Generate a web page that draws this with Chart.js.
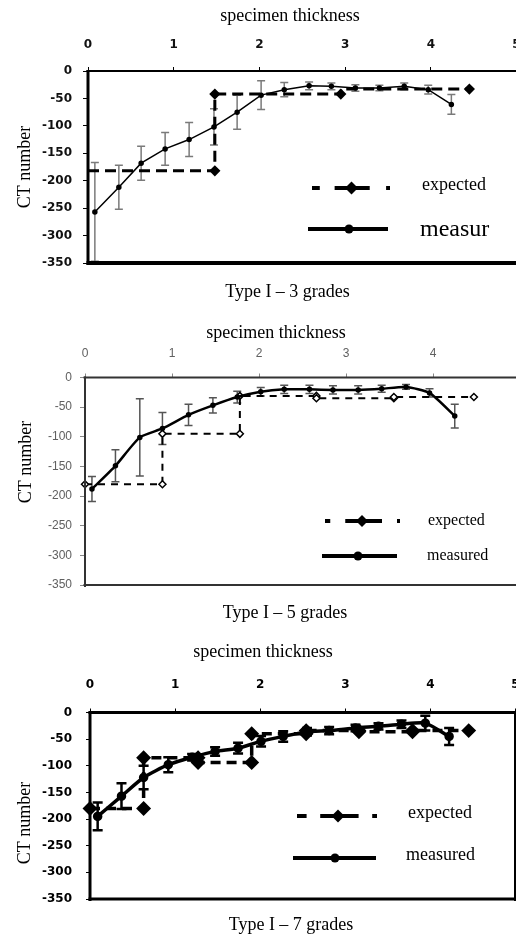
<!DOCTYPE html>
<html>
<head>
<meta charset="utf-8">
<script src="https://cdn.jsdelivr.net/npm/chart.js@4.4.1/dist/chart.umd.min.js"></script>
<style>
html, body { margin: 0; padding: 0; background: #fff; overflow: hidden; }
#wrap { position: relative; width: 516px; height: 937px; overflow: hidden; }
canvas { position: absolute; left: 0; }
</style>
</head>
<body>
<div id="wrap">
  <canvas id="g3" width="540" height="310" style="top:0px"></canvas>
  <canvas id="g5" width="540" height="315" style="top:310px"></canvas>
  <canvas id="g7" width="540" height="312" style="top:625px"></canvas>
</div>
<script>
// axis ranges
const xMin = 0, xMax = 5, xStep = 1;
const yMin = -350, yMax = 0, yStep = 50;

// Type I – 3 grades
const g3MeasX = [0.08, 0.36, 0.62, 0.90, 1.18, 1.47, 1.74, 2.02, 2.29, 2.58, 2.84, 3.12, 3.40, 3.69, 3.97, 4.24];
const g3MeasY = [-257, -212, -168, -142, -125, -102, -75, -44, -34, -27, -28, -31, -31, -28, -34, -61];
const g3MeasErr = [90, 40, 31, 30, 31, 33, 31, 26, 13, 7, 6, 6, 5, 6, 8, 18];
const g3ExpX = [0, 1.48, 1.48, 2.95, 2.95, 4.45];
const g3ExpY = [-182, -182, -42, -42, -33, -33];

// Type I – 5 grades
const g5MeasX = [0.08, 0.35, 0.63, 0.89, 1.19, 1.47, 1.75, 2.02, 2.29, 2.58, 2.85, 3.14, 3.41, 3.69, 3.96, 4.25];
const g5MeasY = [-188, -149, -101, -86, -63, -47, -33, -24, -20, -20, -21, -21, -19, -16, -26, -65];
const g5MeasErr = [21, 27, 65, 27, 18, 13, 10, 7, 7, 7, 7, 7, 6, 4, 7, 20];
const g5ExpX = [0, 0.89, 0.89, 1.78, 1.78, 2.66, 2.66, 3.55, 3.55, 4.47];
const g5ExpY = [-180, -180, -95, -95, -31, -31, -35, -35, -33, -33];

// Type I – 7 grades
const g7MeasX = [0.09, 0.37, 0.63, 0.92, 1.20, 1.47, 1.74, 2.01, 2.27, 2.55, 2.81, 3.12, 3.39, 3.66, 3.94, 4.22];
const g7MeasY = [-195, -157, -122, -98, -84, -73, -67, -54, -45, -36, -34, -29, -26, -22, -20, -45];
const g7MeasErr = [26, 24, 22, 14, 6, 8, 10, 10, 10, 7, 7, 6, 6, 7, 14, 16];
const g7ExpX = [0, 0.63, 0.63, 1.27, 1.27, 1.90, 1.90, 2.54, 2.54, 3.16, 3.16, 3.79, 3.79, 4.45];
const g7ExpY = [-180, -180, -85, -85, -94, -94, -40, -40, -34, -34, -36, -36, -34, -34];

const serif = '"Liberation Serif", "Times New Roman", serif';

function pts(xs, ys) {
  return xs.map((x, i) => ({ x: x, y: ys[i] }));
}

function diamond(ctx, x, y, r) {
  ctx.beginPath();
  ctx.moveTo(x, y - r);
  ctx.lineTo(x + r, y);
  ctx.lineTo(x, y + r);
  ctx.lineTo(x - r, y);
  ctx.closePath();
  ctx.fill();
}

// error bars, frame, legend and free texts
const decor = {
  id: 'decor',
  beforeDatasetsDraw(chart, args, o) {
    const ctx = chart.ctx, ys = chart.scales.y, a = chart.chartArea;
    ctx.save();
    ctx.beginPath();
    ctx.rect(a.left, a.top - 2, a.right - a.left, a.bottom - a.top + 4);
    ctx.clip();
    ctx.strokeStyle = o.bars.color;
    ctx.lineWidth = o.bars.width;
    chart.data.datasets.forEach((ds, i) => {
      if (!ds.errors) return;
      const meta = chart.getDatasetMeta(i);
      meta.data.forEach((pt, j) => {
        const v = ds.data[j].y, e = ds.errors[j];
        const y1 = ys.getPixelForValue(v + e), y2 = ys.getPixelForValue(v - e);
        const c = o.bars.cap;
        ctx.beginPath();
        ctx.moveTo(pt.x, y1); ctx.lineTo(pt.x, y2);
        ctx.moveTo(pt.x - c, y1); ctx.lineTo(pt.x + c, y1);
        ctx.moveTo(pt.x - c, y2); ctx.lineTo(pt.x + c, y2);
        ctx.stroke();
      });
    });
    ctx.restore();
  },
  afterDraw(chart, args, o) {
    const ctx = chart.ctx, a = chart.chartArea, f = o.frame;
    ctx.save();
    ctx.strokeStyle = f.color;
    const side = (w, x1, y1, x2, y2) => {
      if (!w) return;
      ctx.lineWidth = w;
      ctx.beginPath(); ctx.moveTo(x1, y1); ctx.lineTo(x2, y2); ctx.stroke();
    };
    side(f.top, a.left - 1.5, a.top, a.right, a.top);
    side(f.bottom, a.left - 1.5, a.bottom, a.right, a.bottom);
    side(f.left, a.left, a.top - 1, a.left, a.bottom + 2);
    side(f.right, a.right, a.top - 1, a.right, a.bottom + 2);

    // legend
    const L = o.legend;
    ctx.strokeStyle = '#000';
    ctx.fillStyle = '#000';
    ctx.lineWidth = L.width;
    const e = L.expected, m = L.measured;
    const len = e.x2 - e.x1;
    L.segments.forEach(s => {
      ctx.beginPath();
      ctx.moveTo(e.x1 + s[0] * len, e.y);
      ctx.lineTo(e.x1 + s[1] * len, e.y);
      ctx.stroke();
    });
    diamond(ctx, e.mx, e.y, e.r);
    ctx.beginPath();
    ctx.moveTo(m.x1, m.y); ctx.lineTo(m.x2, m.y); ctx.stroke();
    ctx.beginPath(); ctx.arc(m.mx, m.y, m.r, 0, Math.PI * 2); ctx.fill();

    // texts
    o.texts.forEach(t => {
      ctx.save();
      ctx.font = t.size + 'px ' + serif;
      ctx.fillStyle = '#000';
      ctx.textAlign = t.align || 'center';
      ctx.textBaseline = 'middle';
      ctx.translate(t.x, t.y);
      if (t.rot) ctx.rotate(-Math.PI / 2);
      ctx.fillText(t.text, 0, 0);
      ctx.restore();
    });
    ctx.restore();
  }
};

function build(id, s) {
  const W = 540;
  new Chart(document.getElementById(id), {
    type: 'line',
    plugins: [decor],
    data: {
      datasets: [
        Object.assign({ label: 'measured', data: s.meas, errors: s.err, clip: false, order: 0 }, s.measStyle),
        Object.assign({ label: 'expected', data: s.exp, clip: false, order: 1 }, s.expStyle)
      ]
    },
    options: {
      responsive: false,
      animation: false,
      layout: {
        padding: {
          left: s.area.left - 60,
          top: s.area.top - 40,
          right: W - s.area.right,
          bottom: s.height - s.area.bottom
        }
      },
      scales: {
        x: {
          type: 'linear',
          position: 'top',
          min: xMin, max: xMax,
          afterFit(sc) { sc.height = 40; },
          border: { display: false },
          grid: { drawOnChartArea: false, tickLength: 4, tickColor: s.tickColor, lineWidth: 1 },
          ticks: { stepSize: xStep, padding: s.xPad, color: s.labelColor, font: s.font, maxRotation: 0 }
        },
        y: {
          min: yMin, max: yMax,
          afterFit(sc) { sc.width = 60; },
          border: { display: false },
          grid: { drawOnChartArea: false, tickLength: s.yTick, tickColor: s.tickColor, lineWidth: 1 },
          ticks: { stepSize: yStep, padding: s.yPad, color: s.labelColor, font: s.font }
        }
      },
      plugins: {
        legend: { display: false },
        tooltip: { enabled: false },
        decor: s.decor
      }
    }
  });
}

// Type I – 3 grades
build('g3', {
  height: 310,
  area: { left: 88, right: 516.5, top: 71, bottom: 263 },
  font: { family: '"DejaVu Sans", sans-serif', size: 12, weight: 'bold' },
  labelColor: '#111', tickColor: '#000', xPad: 15, yPad: 11, yTick: 5,
  meas: pts(g3MeasX, g3MeasY), err: g3MeasErr,
  exp: pts(g3ExpX, g3ExpY),
  measStyle: { borderColor: '#000', borderWidth: 1.5, pointRadius: 2, pointBackgroundColor: '#000', pointBorderColor: '#000', tension: 0 },
  expStyle: { borderColor: '#000', borderWidth: 3, borderDash: [11, 6], pointStyle: 'rectRot', pointRadius: [0, 3.5, 3.5, 3.5, 0, 3.5], pointBackgroundColor: '#000', pointBorderColor: '#000', tension: 0 },
  decor: {
    bars: { color: '#7a7a7a', width: 1.5, cap: 4 },
    frame: { color: '#000', top: 2, bottom: 4, left: 3, right: 0 },
    legend: {
      width: 4,
      segments: [[0, 0.1], [0.29, 0.74], [0.95, 1]],
      expected: { x1: 312, x2: 390, y: 188, mx: 351.5, r: 6.5 },
      measured: { x1: 308, x2: 388, y: 229, mx: 349, r: 4.5 }
    },
    texts: [
      { text: 'specimen thickness', x: 290, y: 16, size: 18 },
      { text: 'Type I \u2013 3 grades', x: 287.5, y: 292, size: 18 },
      { text: 'CT number', x: 25, y: 167, size: 18, rot: true },
      { text: 'expected', x: 422, y: 185, size: 18, align: 'left' },
      { text: 'measur', x: 420, y: 230, size: 24, align: 'left' }
    ]
  }
});

// Type I – 5 grades
build('g5', {
  height: 315,
  area: { left: 85, right: 520, top: 67.5, bottom: 275 },
  font: { family: '"Liberation Sans", sans-serif', size: 12 },
  labelColor: '#606060', tickColor: '#888', xPad: 13, yPad: 8, yTick: 5,
  meas: pts(g5MeasX, g5MeasY), err: g5MeasErr,
  exp: pts(g5ExpX, g5ExpY),
  measStyle: { borderColor: '#000', borderWidth: 2.5, pointRadius: 1.5, pointBackgroundColor: '#000', pointBorderColor: '#000', tension: 0.2 },
  expStyle: { borderColor: '#000', borderWidth: 2, borderDash: [7, 6], pointStyle: 'rectRot', pointRadius: 3.5, pointBackgroundColor: '#fff', pointBorderColor: '#000', pointBorderWidth: 1.5, tension: 0 },
  decor: {
    bars: { color: '#555', width: 1.5, cap: 4 },
    frame: { color: '#333', top: 2, bottom: 2, left: 2, right: 2 },
    legend: {
      width: 4,
      segments: [[0, 0.07], [0.27, 0.76], [0.96, 1]],
      expected: { x1: 325, x2: 400, y: 211, mx: 362, r: 6 },
      measured: { x1: 322, x2: 397, y: 246, mx: 358, r: 4.5 }
    },
    texts: [
      { text: 'specimen thickness', x: 276, y: 23, size: 18 },
      { text: 'Type I \u2013 5 grades', x: 285, y: 303, size: 18 },
      { text: 'CT number', x: 26, y: 152, size: 18, rot: true },
      { text: 'expected', x: 428, y: 211, size: 16, align: 'left' },
      { text: 'measured', x: 427, y: 246, size: 16, align: 'left' }
    ]
  }
});

// Type I – 7 grades
build('g7', {
  height: 312,
  area: { left: 90, right: 515.5, top: 87.5, bottom: 274 },
  font: { family: '"DejaVu Sans", sans-serif', size: 12, weight: 'bold' },
  labelColor: '#000', tickColor: '#000', xPad: 16, yPad: 14, yTick: 4,
  meas: pts(g7MeasX, g7MeasY), err: g7MeasErr,
  exp: pts(g7ExpX, g7ExpY),
  measStyle: { borderColor: '#000', borderWidth: 3.5, pointRadius: 3, pointBackgroundColor: '#000', pointBorderColor: '#000', tension: 0.2 },
  expStyle: { borderColor: '#000', borderWidth: 3.5, borderDash: [10, 6], pointStyle: 'rectRot', pointRadius: 5, pointBackgroundColor: '#000', pointBorderColor: '#000', tension: 0 },
  decor: {
    bars: { color: '#000', width: 2.5, cap: 5 },
    frame: { color: '#000', top: 3, bottom: 3, left: 3, right: 3 },
    legend: {
      width: 4,
      segments: [[0, 0.12], [0.29, 0.77], [0.94, 1]],
      expected: { x1: 297, x2: 377, y: 191, mx: 338, r: 6.5 },
      measured: { x1: 293, x2: 376, y: 233, mx: 335, r: 4.5 }
    },
    texts: [
      { text: 'specimen thickness', x: 263, y: 27, size: 18 },
      { text: 'Type I \u2013 7 grades', x: 291, y: 300, size: 18 },
      { text: 'CT number', x: 25, y: 198, size: 18, rot: true },
      { text: 'expected', x: 408, y: 188, size: 18, align: 'left' },
      { text: 'measured', x: 406, y: 230, size: 18, align: 'left' }
    ]
  }
});
</script>
</body>
</html>
